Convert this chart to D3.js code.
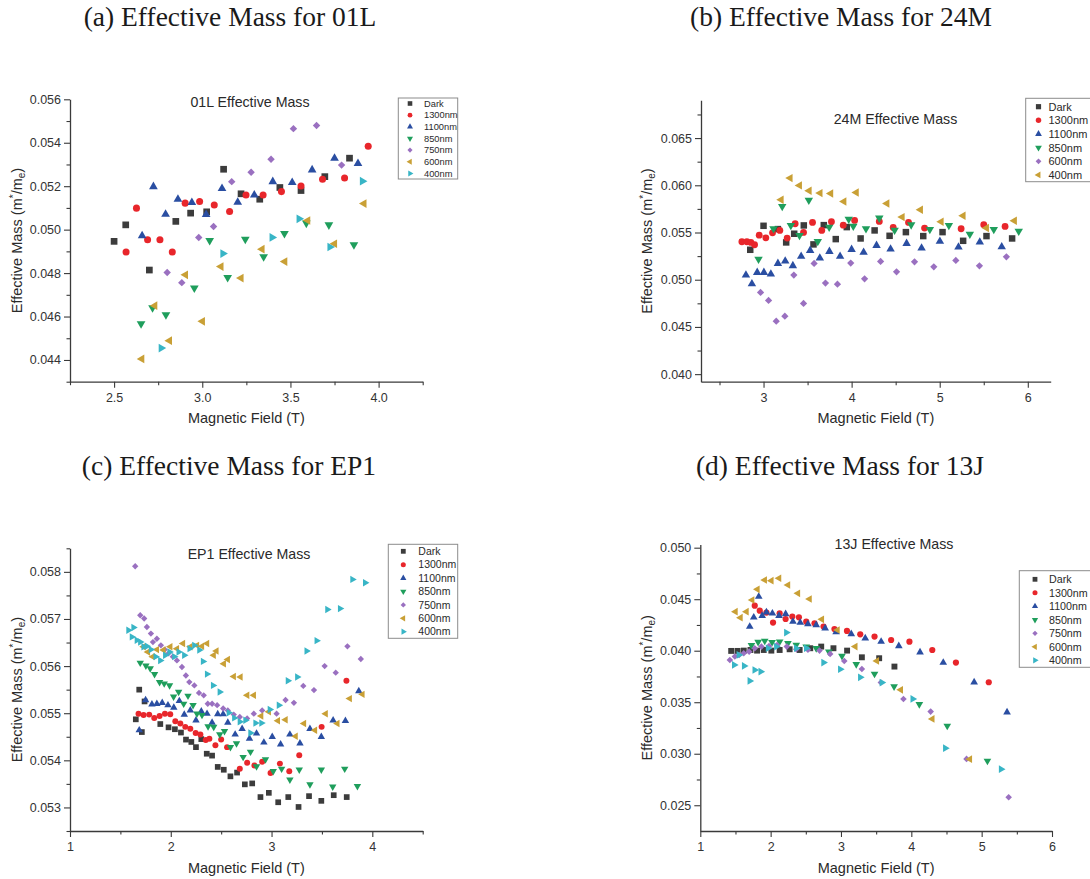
<!DOCTYPE html>
<html>
<head>
<meta charset="utf-8">
<script src="https://cdn.jsdelivr.net/npm/d3@7"></script>
<style>
  body { margin: 0; background: #fff; }
  svg { display: block; }
  .hdr { font-family: "Liberation Serif", "Times New Roman", serif; fill: #1a1a1a; }
  .sans { font-family: "Liberation Sans", Arial, sans-serif; fill: #2a2a2a; }
</style>
</head>
<body>
<svg id="fig" width="1090" height="879"></svg>
<script>
// ---------- series labels ----------
const labels7   = ["Dark", "1300nm", "1100nm", "850nm", "750nm", "600nm", "400nm"];
const labels24M = ["Dark", "1300nm", "1100nm", "850nm", "600nm", "400nm"];

// ---------- tick values ----------
const ticksA_x = [2.5, 3.0, 3.5, 4.0];
const ticksA_xMinor = [2.25, 2.75, 3.25, 3.75, 4.25];
const ticksA_y = [0.044, 0.046, 0.048, 0.050, 0.052, 0.054, 0.056];
const ticksA_yMinor = [0.043, 0.045, 0.047, 0.049, 0.051, 0.053, 0.055];

const ticksB_x = [3, 4, 5, 6];
const ticksB_xMinor = [2.5, 3.5, 4.5, 5.5];
const ticksB_y = [0.040, 0.045, 0.050, 0.055, 0.060, 0.065];
const ticksB_yMinor = [0.0425, 0.0475, 0.0525, 0.0575, 0.0625, 0.0675];

const ticksC_x = [1, 2, 3, 4];
const ticksC_xMinor = [1.5, 2.5, 3.5, 4.5];
const ticksC_y = [0.053, 0.054, 0.055, 0.056, 0.057, 0.058];
const ticksC_yMinor = [0.0525, 0.0535, 0.0545, 0.0555, 0.0565, 0.0575, 0.0585];

const ticksD_x = [1, 2, 3, 4, 5, 6];
const ticksD_xMinor = [1.5, 2.5, 3.5, 4.5, 5.5];
const ticksD_y = [0.025, 0.030, 0.035, 0.040, 0.045, 0.050];
const ticksD_yMinor = [0.0275, 0.0325, 0.0375, 0.0425, 0.0475];

// ---------- 01L : [field (T), effective mass] ----------
const m01L_dark = [[2.50,.04946],[2.566,.05022],[2.70,.04814],[2.85,.05038],[2.934,.05076],[3.025,.05082],[3.121,.05278],[3.22,.05165],[3.326,.0514],[3.44,.05194],[3.56,.0518],[3.695,.05244],[3.835,.05329]];
const m01L_1300 = [[2.568,.04897],[2.627,.05099],[2.69,.04953],[2.76,.04953],[2.83,.04897],[2.903,.05122],[2.985,.0513],[3.068,.05113],[3.155,.05083],[3.248,.05159],[3.345,.05159],[3.449,.05175],[3.56,.05201],[3.682,.05232],[3.807,.05238],[3.941,.05384]];
const m01L_1100 = [[2.659,.04972],[2.723,.05198],[2.792,.05071],[2.862,.0514],[2.941,.05125],[3.022,.0507],[3.112,.05189],[3.201,.05126],[3.295,.05159],[3.40,.05221],[3.51,.05217],[3.623,.05275],[3.75,.05329],[3.883,.05304]];
const m01L_850 = [[2.653,.04567],[2.718,.0464],[2.794,.04608],[2.955,.04731],[3.042,.0495],[3.144,.0478],[3.244,.04956],[3.348,.04875],[3.466,.04982],[3.59,.0503],[3.718,.05022],[3.86,.0493]];
const m01L_750 = [[2.801,.04803],[2.884,.04756],[2.98,.04964],[3.064,.05014],[3.167,.05221],[3.277,.05264],[3.39,.05324],[3.517,.05465],[3.648,.05479],[3.79,.05297]];
const m01L_600 = [[2.657,.04405],[2.731,.0465],[2.814,.04489],[2.905,.04792],[3.001,.04578],[3.106,.0483],[3.22,.04777],[3.339,.0491],[3.468,.04853],[3.598,.05042],[3.75,.04935],[3.917,.0512]];
const m01L_400 = [[2.767,.04455],[3.117,.0489],[3.396,.04964],[3.549,.0505],[3.724,.0492],[3.908,.05223]];

// ---------- 24M ----------
const m24M_dark = [[2.849,.05317],[3.0,.05571],[3.163,.05536],[3.257,.05395],[3.348,.05487],[3.457,.05575],[3.567,.05374],[3.684,.05578],[3.82,.0543],[3.945,.05557],[4.102,.05437],[4.261,.05522],[4.431,.05465],[4.616,.05504],[4.813,.05462],[5.032,.05504],[5.266,.05412],[5.531,.05462],[5.822,.05437]];
const m24M_1300 = [[2.754,.05402],[2.811,.05402],[2.856,.05395],[2.898,.0537],[2.951,.05472],[3.026,.05444],[3.102,.05497],[3.185,.05522],[3.268,.05441],[3.359,.05593],[3.454,.05501],[3.556,.05607],[3.661,.05522],[3.771,.05614],[3.905,.05578],[4.034,.05628],[4.314,.05617],[4.472,.05554],[4.646,.05607],[4.828,.05547],[5.243,.0554],[5.50,.05582],[5.742,.05564]];
const m24M_1100 = [[2.80,.05049],[2.868,.04957],[2.928,.05077],[3.004,.05077],[3.083,.05059],[3.163,.05172],[3.246,.05197],[3.333,.05148],[3.427,.05247],[3.529,.0531],[3.639,.05229],[3.748,.05299],[3.869,.05247],[4.0,.0532],[4.136,.05289],[4.283,.05363],[4.442,.05324],[4.624,.05384],[4.794,.05335],[5.002,.05406],[5.213,.05345],[5.455,.05399],[5.704,.05349]];
const m24M_850 = [[2.943,.05218],[3.113,.0554],[3.212,.05776],[3.31,.05575],[3.408,.05469],[3.514,.05843],[3.616,.05405],[3.745,.05557],[3.967,.05642],[4.019,.05568],[4.163,.0554],[4.314,.05653],[4.488,.05525],[4.676,.05582],[4.888,.05532],[5.104,.05575],[5.342,.05483],[5.614,.05532],[5.897,.05515]];
const m24M_600 = [[2.966,.04865],[3.057,.0478],[3.144,.04561],[3.242,.04614],[3.344,.05049],[3.454,.04749],[3.574,.05172],[3.703,.04964],[3.839,.04953],[3.99,.05176],[4.147,.0501],[4.329,.05193],[4.51,.05084],[4.714,.0519],[4.933,.05137],[5.183,.05204],[5.451,.05147],[5.757,.05243]];
const m24M_400 = [[3.2,.05847],[3.302,.06076],[3.408,.05999],[3.518,.05942],[3.642,.05917],[3.763,.05914],[3.913,.05829],[4.053,.05924],[4.401,.05808],[4.574,.05663],[4.782,.05741],[5.017,.05614],[5.266,.05677],[5.531,.05547],[5.848,.05624]];

// ---------- EP1 ----------
const mEP1_dark = [[1.653,.05487],[1.687,.0555],[1.713,.0546],[1.74,.05525],[1.896,.05477],[1.978,.0547],[2.041,.05466],[2.101,.05459],[2.151,.05444],[2.204,.05439],[2.25,.05428],[2.303,.05445],[2.357,.05414],[2.41,.0541],[2.466,.05386],[2.526,.0538],[2.592,.05366],[2.658,.05374],[2.735,.05349],[2.808,.05351],[2.89,.05322],[2.973,.05331],[3.066,.05311],[3.166,.05322],[3.268,.05301],[3.372,.05324],[3.494,.05314],[3.617,.05326],[3.746,.05322]];
const mEP1_1300 = [[1.68,.05499],[1.73,.05496],[1.786,.05497],[1.836,.0549],[1.889,.05494],[1.942,.05499],[1.995,.05498],[2.045,.05483],[2.095,.05478],[2.144,.05471],[2.194,.05467],[2.247,.05458],[2.294,.05455],[2.347,.05443],[2.383,.05446],[2.443,.05432],[2.50,.05444],[2.559,.05428],[2.685,.05382],[2.758,.05395],[2.83,.05389],[2.907,.05397],[2.99,.05373],[3.083,.05393],[3.176,.05377],[3.275,.05411],[3.497,.05471],[3.743,.05569]];
const mEP1_1100 = [[1.687,.05464],[1.75,.05528],[1.813,.05519],[1.862,.0552],[1.915,.05522],[1.972,.05517],[2.03,.05512],[2.085,.05526],[2.134,.05497],[2.194,.05506],[2.25,.05485],[2.303,.05504],[2.36,.05499],[2.41,.0548],[2.466,.05498],[2.52,.05498],[2.566,.0548],[2.639,.05455],[2.708,.05467],[2.781,.05446],[2.851,.05457],[2.924,.05438],[3.007,.0545],[3.09,.05434],[3.182,.05455],[3.282,.05436],[3.381,.05467],[3.494,.0545],[3.611,.05485],[3.733,.05484],[3.866,.05547]];
const mEP1_850 = [[1.697,.05607],[1.753,.05601],[1.796,.05595],[1.839,.05583],[1.889,.05566],[1.935,.05563],[1.988,.05559],[2.028,.05535],[2.078,.05545],[2.128,.0552],[2.171,.05537],[2.221,.05517],[2.26,.05499],[2.31,.05496],[2.37,.05472],[2.426,.05471],[2.486,.05455],[2.533,.05462],[2.592,.05428],[2.652,.05436],[2.718,.05407],[2.791,.05418],[2.851,.05387],[2.94,.05402],[3.017,.05377],[3.1,.05382],[3.182,.05359],[3.275,.0538],[3.381,.05349],[3.494,.0538],[3.607,.05344],[3.726,.05382],[3.852,.05345]];
const mEP1_750 = [[1.647,.05812],[1.697,.05708],[1.736,.05701],[1.763,.05683],[1.803,.05669],[1.823,.05651],[1.862,.05658],[1.902,.05644],[1.94,.05635],[1.978,.05627],[2.02,.0562],[2.061,.05612],[2.111,.05598],[2.15,.0558],[2.184,.05566],[2.234,.05559],[2.28,.05543],[2.327,.05538],[2.367,.0552],[2.41,.0552],[2.46,.05517],[2.52,.0551],[2.566,.05506],[2.625,.05497],[2.685,.05492],[2.758,.05489],[2.824,.05499],[2.907,.05506],[3.05,.05499],[3.139,.05528],[3.222,.05522],[3.315,.05558],[3.421,.05549],[3.527,.056],[3.637,.05586],[3.753,.05642],[3.886,.05615]];
const mEP1_600 = [[1.73,.05641],[1.773,.0563],[1.82,.0562],[1.862,.05635],[1.928,.05634],[1.995,.05641],[2.061,.05637],[2.121,.05648],[2.194,.05641],[2.26,.05644],[2.31,.05642],[2.36,.05648],[2.426,.05623],[2.453,.05632],[2.526,.05605],[2.566,.05614],[2.625,.05578],[2.692,.05577],[2.758,.05538],[2.824,.05538],[2.897,.05494],[2.973,.05503],[3.063,.05484],[3.139,.05486],[3.239,.05451],[3.322,.05478],[3.431,.05464],[3.537,.05499],[3.653,.05478],[3.776,.05531],[3.902,.0554]];
const mEP1_400 = [[1.58,.05676],[1.614,.05662],[1.63,.05682],[1.663,.05655],[1.697,.05651],[1.73,.05641],[1.763,.05642],[1.803,.05635],[1.85,.0562],[1.896,.05612],[1.945,.05623],[1.988,.0563],[2.035,.0562],[2.078,.0563],[2.134,.05623],[2.187,.05637],[2.234,.05644],[2.284,.05634],[2.32,.0561],[2.36,.05583],[2.42,.05559],[2.486,.05545],[2.576,.05501],[2.63,.0549],[2.685,.05482],[2.741,.05485],[2.791,.05458],[2.841,.05479],[2.9,.05479],[2.983,.05508],[3.073,.05517],[3.162,.05569],[3.255,.05577],[3.348,.05632],[3.448,.05654],[3.554,.0572],[3.68,.05722],[3.803,.05784],[3.929,.05777]];

// ---------- 13J ----------
const m13J_dark = [[1.439,.03998],[1.529,.03998],[1.618,.04001],[1.713,.04007],[1.807,.04001],[1.902,.04007],[2.01,.04001],[2.128,.04007],[2.27,.04014],[2.412,.04007],[2.563,.04024],[2.719,.0404],[2.893,.04024],[3.087,.04001],[3.297,.03936],[3.543,.03927],[3.76,.03846]];
const m13J_1300 = [[1.774,.04437],[1.845,.04389],[1.94,.0437],[2.034,.04273],[2.128,.04363],[2.213,.04308],[2.308,.04331],[2.402,.04324],[2.506,.04282],[2.624,.04266],[2.752,.04234],[2.907,.04211],[3.085,.04192],[3.274,.04159],[3.477,.04137],[3.713,.04104],[3.973,.04088],[4.298,.04007],[4.634,.03885],[5.101,.03694]];
const m13J_1100 = [[1.703,.04234],[1.76,.04324],[1.831,.04525],[1.88,.0434],[1.94,.04373],[2.025,.04363],[2.119,.0434],[2.213,.04357],[2.317,.04282],[2.421,.04273],[2.53,.0426],[2.648,.0425],[2.775,.04218],[2.931,.04182],[3.146,.04163],[3.345,.04121],[3.571,.04088],[3.822,.04046],[4.124,.03985],[4.454,.03885],[4.893,.03694],[5.361,.03403]];
const m13J_850 = [[1.727,.04053],[1.822,.04085],[1.916,.04095],[2.02,.04082],[2.128,.04088],[2.246,.04072],[2.364,.04056],[2.506,.0404],[2.648,.04024],[2.827,.03991],[3.014,.03949],[3.217,.03868],[3.477,.03775],[3.755,.03652],[4.114,.0348],[4.511,.0327],[5.082,.02931]];
const m13J_750 = [[1.42,.0391],[1.491,.03943],[1.552,.03959],[1.618,.03975],[1.694,.03991],[1.774,.04024],[1.869,.0404],[1.977,.04046],[2.091,.04056],[2.23,.0404],[2.364,.04014],[2.53,.0401],[2.695,.04001],[2.846,.03969],[3.047,.03901],[3.297,.03823],[3.567,.03691],[3.888,.03532],[4.275,.03409],[4.785,.0295],[5.384,.02578]];
const m13J_600 = [[1.5,.04379],[1.571,.04321],[1.656,.04379],[1.737,.04492],[1.812,.04596],[1.916,.04686],[2.01,.0468],[2.119,.04703],[2.246,.04638],[2.388,.04557],[2.553,.04502],[2.728,.04305],[2.95,.04201],[3.203,.0404],[3.51,.03901],[3.85,.0362],[4.298,.03338],[4.832,.02947]];
const m13J_400 = [[1.482,.03862],[1.548,.03959],[1.623,.03852],[1.703,.03707],[1.774,.03813],[1.859,.03797],[1.963,.04024],[2.081,.0404],[2.223,.04176],[2.364,.04024],[2.506,.04024],[2.752,.03885],[2.99,.0382],[3.274,.03742],[3.581,.03691],[4.02,.03532],[4.483,.03054],[5.276,.0285]];

// ---------- marker styles, in plotting order ----------
const markerColors = ["#3c3c3c", "#e8262b", "#2a4ea2", "#1f9e5c", "#9a70c0", "#c9a036", "#38b5c6"];
const markerShapes = ["square", "circle", "up", "down", "diamond", "left", "right"];

const svg = d3.select("#fig");

function markerPath(shape, s) {
  if (shape === "square") return d3.symbol(d3.symbolSquare, s * s)();
  if (shape === "circle") return d3.symbol(d3.symbolCircle, Math.PI * s * s / 4 * 1.1)();
  if (shape === "diamond") return d3.symbol(d3.symbolSquare, s * s * 0.62)();
  const t = s * 1.3;
  return d3.symbol(d3.symbolTriangle, 0.433 * t * t)();
}
const markerRot = { square: 0, circle: 0, diamond: 45, up: 0, down: 180, left: -90, right: 90 };

function drawMarker(g, shape, color, x, y, s) {
  g.append("path")
    .attr("d", markerPath(shape, s))
    .attr("transform", `translate(${x},${y}) rotate(${markerRot[shape]})`)
    .attr("fill", color);
}

function drawPanel(p) {
  const g = svg.append("g");
  const x = d3.scaleLinear().domain(p.xDomain).range(p.xRange);
  const y = d3.scaleLinear().domain(p.yDomain).range(p.yRange);

  // header above the panel
  g.append("text").attr("class", "hdr")
    .attr("x", p.header[0]).attr("y", p.header[1])
    .attr("text-anchor", "middle").attr("font-size", 27.5)
    .text(p.headerText);

  // axes
  const axisColor = "#3a3a3a";
  const xa = g.append("g").attr("transform", `translate(0,${p.yRange[0]})`)
    .call(d3.axisBottom(x).tickValues(p.xTicks).tickFormat(d3.format(p.xFmt))
      .tickSize(6).tickSizeOuter(0).tickPadding(5));
  const xm = g.append("g").attr("transform", `translate(0,${p.yRange[0]})`)
    .call(d3.axisBottom(x).tickValues(p.xMinor).tickFormat("").tickSize(3.5).tickSizeOuter(0));
  xm.select(".domain").remove();
  const ya = g.append("g").attr("transform", `translate(${p.xRange[0]},0)`)
    .call(d3.axisLeft(y).tickValues(p.yTicks).tickFormat(d3.format(".3f"))
      .tickSize(6).tickSizeOuter(0).tickPadding(3));
  const ym = g.append("g").attr("transform", `translate(${p.xRange[0]},0)`)
    .call(d3.axisLeft(y).tickValues(p.yMinor).tickFormat("").tickSize(3.5).tickSizeOuter(0));
  ym.select(".domain").remove();
  [xa, xm, ya, ym].forEach(a => {
    a.selectAll(".domain").attr("stroke", axisColor).attr("stroke-width", 1.3);
    a.selectAll(".tick line").attr("stroke", axisColor).attr("stroke-width", 1.1);
    a.selectAll(".tick text").attr("font-family", "Liberation Sans, Arial, sans-serif")
      .attr("font-size", 12.5).attr("fill", "#333");
  });

  // axis titles
  const xMid = (p.xRange[0] + p.xRange[1]) / 2;
  const yMid = (p.yRange[0] + p.yRange[1]) / 2;
  g.append("text").attr("class", "sans")
    .attr("x", xMid).attr("y", p.yRange[0] + 41.5)
    .attr("text-anchor", "middle").attr("font-size", 14.5)
    .text("Magnetic Field (T)");
  const yl = g.append("text").attr("class", "sans")
    .attr("transform", `translate(${p.yLabelX},${yMid}) rotate(-90)`)
    .attr("text-anchor", "middle").attr("font-size", 14.5);
  yl.append("tspan").text("Effective Mass (m");
  yl.append("tspan").attr("dy", -5).attr("font-size", 10).text("*");
  yl.append("tspan").attr("dy", 5).text("/m");
  yl.append("tspan").attr("dy", 3.5).attr("font-size", 10).text("e");
  yl.append("tspan").attr("dy", -3.5).text(")");

  // plot title
  g.append("text").attr("class", "sans")
    .attr("x", p.title[0]).attr("y", p.title[1])
    .attr("text-anchor", "middle").attr("font-size", 14.2)
    .text(p.titleText);

  // points
  const pts = g.append("g");
  p.series.forEach((data, i) => {
    data.forEach(d => drawMarker(pts, markerShapes[i], markerColors[i], x(d[0]), y(d[1]), p.mSize));
  });

  // legend
  const L = p.legend;
  const lg = g.append("g");
  lg.append("rect").attr("x", L.x).attr("y", L.y).attr("width", L.w).attr("height", L.h)
    .attr("fill", "#fff").attr("stroke", "#8c8c8c").attr("stroke-width", 1);
  p.labels.forEach((lab, i) => {
    const cy = L.row0 + i * L.step;
    drawMarker(lg, markerShapes[i], markerColors[i], L.sx, cy, L.ms);
    lg.append("text").attr("class", "sans")
      .attr("x", L.tx).attr("y", cy).attr("dy", "0.36em")
      .attr("font-size", L.fs).text(lab);
  });
}

drawPanel({
  headerText: "(a) Effective Mass for 01L", header: [230, 26],
  titleText: "01L Effective Mass", title: [250, 107],
  xDomain: [2.25, 4.25], xRange: [70, 422.7],
  yDomain: [0.043, 0.056], yRange: [381.7, 99.3],
  xTicks: ticksA_x, xMinor: ticksA_xMinor, xFmt: ".1f",
  yTicks: ticksA_y, yMinor: ticksA_yMinor, yLabelX: 21.5,
  series: [m01L_dark, m01L_1300, m01L_1100, m01L_850, m01L_750, m01L_600, m01L_400],
  labels: labels7, mSize: 6.7,
  legend: { x: 398.3, y: 98, w: 59.4, h: 81, sx: 410, tx: 424, row0: 103.5, step: 11.65, fs: 9.3, ms: 4.6 }
});

drawPanel({
  headerText: "(b) Effective Mass for 24M", header: [841, 26],
  titleText: "24M Effective Mass", title: [895.5, 123.5],
  xDomain: [2.29, 6.26], xRange: [701, 1050.7],
  yDomain: [0.0392, 0.069], yRange: [381.7, 100.3],
  xTicks: ticksB_x, xMinor: ticksB_xMinor, xFmt: "d",
  yTicks: ticksB_y, yMinor: ticksB_yMinor, yLabelX: 651.5,
  series: [m24M_dark, m24M_1300, m24M_1100, m24M_850, m24M_600, m24M_400],
  labels: labels24M, mSize: 6.5,
  legend: { x: 1025.7, y: 98.3, w: 80, h: 83.4, sx: 1038.5, tx: 1048.5, row0: 106.7, step: 13.65, fs: 11, ms: 5.2 }
});

drawPanel({
  headerText: "(c) Effective Mass for EP1", header: [229, 475],
  titleText: "EP1 Effective Mass", title: [249, 559],
  xDomain: [1, 4.5], xRange: [70, 422.7],
  yDomain: [0.0525, 0.0585], yRange: [831, 548.3],
  xTicks: ticksC_x, xMinor: ticksC_xMinor, xFmt: "d",
  yTicks: ticksC_y, yMinor: ticksC_yMinor, yLabelX: 21.5,
  series: [mEP1_dark, mEP1_1300, mEP1_1100, mEP1_850, mEP1_750, mEP1_600, mEP1_400],
  labels: labels7, mSize: 5.7,
  legend: { x: 388.3, y: 544.3, w: 69.4, h: 94, sx: 403.3, tx: 418.3, row0: 551.3, step: 13.4, fs: 10.5, ms: 4.8 }
});

drawPanel({
  headerText: "(d) Effective Mass for 13J", header: [840, 475],
  titleText: "13J Effective Mass", title: [894, 548.5],
  xDomain: [1, 6], xRange: [700.3, 1052],
  yDomain: [0.0225, 0.0503], yRange: [831, 544.6],
  xTicks: ticksD_x, xMinor: ticksD_xMinor, xFmt: "d",
  yTicks: ticksD_y, yMinor: ticksD_yMinor, yLabelX: 651.5,
  series: [m13J_dark, m13J_1300, m13J_1100, m13J_850, m13J_750, m13J_600, m13J_400],
  labels: labels7, mSize: 5.9,
  legend: { x: 1019.3, y: 570.7, w: 80, h: 96.6, sx: 1035, tx: 1049, row0: 579.3, step: 13.5, fs: 10.7, ms: 4.8 }
});
</script>
</body>
</html>
